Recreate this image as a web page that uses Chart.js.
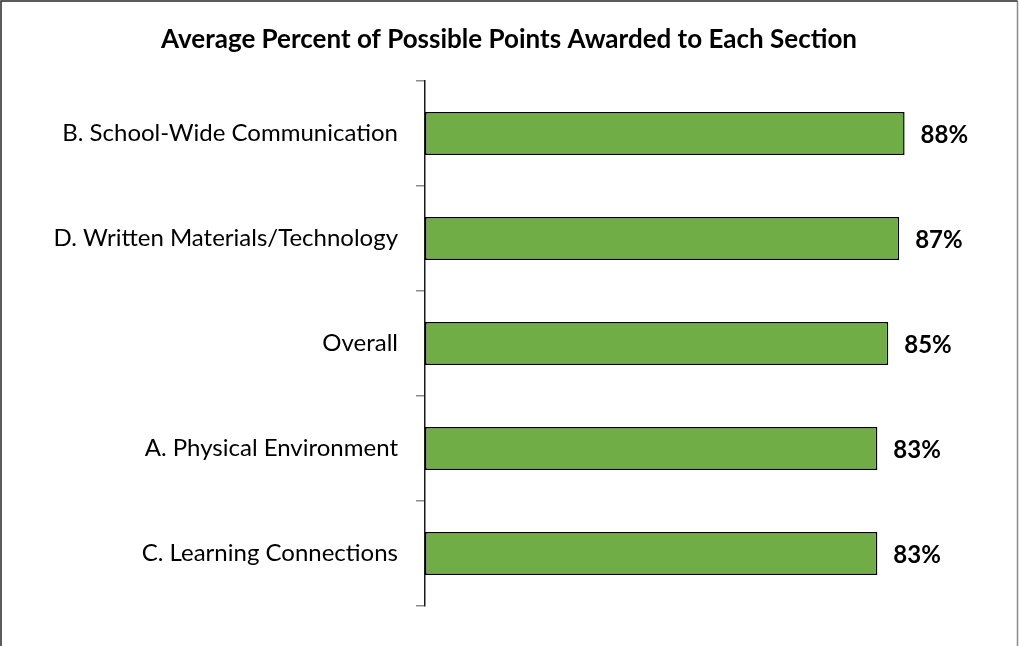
<!DOCTYPE html>
<html>
<head>
<meta charset="utf-8">
<style>
  html, body { margin: 0; padding: 0; background: #fff; }
  #wrap { position: relative; width: 1019px; height: 646px; }
</style>
<script src="https://cdn.jsdelivr.net/npm/chart.js@4/dist/chart.umd.min.js"></script>
</head>
<body>
<div id="wrap"><canvas id="c" width="1019" height="646"></canvas></div>
<script>
const titleText = 'Average Percent of Possible Points Awarded to Each Section';
const categories = [
  'B. School-Wide Communication',
  'D. Written Materials/Technology',
  'Overall',
  'A. Physical Environment',
  'C. Learning Connections'
];
const percentValues = [88, 87, 85, 83, 83];

const FONT = 'Lato, "Open Sans", sans-serif';

// Frame and title drawn around the plot
const framePlugin = {
  id: 'frame',
  beforeDraw(chart) {
    const ctx = chart.ctx;
    ctx.save();
    ctx.fillStyle = '#ffffff';
    ctx.fillRect(0, 0, chart.width, chart.height);
    ctx.lineWidth = 1.5;
    // right edge in mid grey
    ctx.strokeStyle = '#8a8a8a';
    ctx.beginPath();
    ctx.moveTo(chart.width - 1.5, 1);
    ctx.lineTo(chart.width - 1.5, chart.height + 2);
    ctx.stroke();
    // left and top edges darker
    ctx.strokeStyle = '#262626';
    ctx.beginPath();
    ctx.moveTo(1, chart.height + 2);
    ctx.lineTo(1, 1);
    ctx.lineTo(chart.width - 1.5, 1);
    ctx.stroke();
    ctx.fillStyle = '#000';
    ctx.font = 'bold 26px ' + FONT;
    ctx.textAlign = 'center';
    ctx.textBaseline = 'alphabetic';
    ctx.fillText(titleText, 509, 48);
    ctx.restore();
  }
};

// Percentage labels at the end of each bar
const valueLabels = {
  id: 'valueLabels',
  afterDatasetsDraw(chart) {
    const ctx = chart.ctx;
    const meta = chart.getDatasetMeta(0);
    ctx.save();
    ctx.fillStyle = '#000';
    ctx.font = 'bold 24px ' + FONT;
    ctx.textAlign = 'left';
    ctx.textBaseline = 'alphabetic';
    meta.data.forEach((bar, i) => {
      ctx.fillText(percentValues[i] + '%', bar.x + 16, bar.y + 9.5);
    });
    ctx.restore();
  }
};

new Chart(document.getElementById('c'), {
  type: 'bar',
  data: {
    labels: categories,
    datasets: [{
      data: percentValues,
      backgroundColor: '#70AD47',
      borderColor: '#000000',
      borderWidth: 1.5,
      borderSkipped: false,
      barPercentage: 0.41,
      categoryPercentage: 1
    }]
  },
  options: {
    indexAxis: 'y',
    responsive: false,
    animation: false,
    layout: { padding: { left: 0, right: 49, top: 81, bottom: 40 } },
    plugins: {
      legend: { display: false },
      title: { display: false },
      tooltip: { enabled: false }
    },
    scales: {
      x: {
        display: false,
        min: 0,
        max: 100
      },
      y: {
        afterFit(scale) { scale.width = 425; },
        grid: {
          display: true,
          drawOnChartArea: false,
          drawTicks: true,
          tickLength: 9,
          color: '#8c8c8c',
          lineWidth: 1.5,
          offset: true
        },
        border: { display: true, color: '#1a1a1a', width: 1.5 },
        ticks: {
          color: '#000',
          padding: 18,
          font: { family: FONT, size: 24 }
        }
      }
    }
  },
  plugins: [framePlugin, valueLabels]
});
</script>
</body>
</html>
